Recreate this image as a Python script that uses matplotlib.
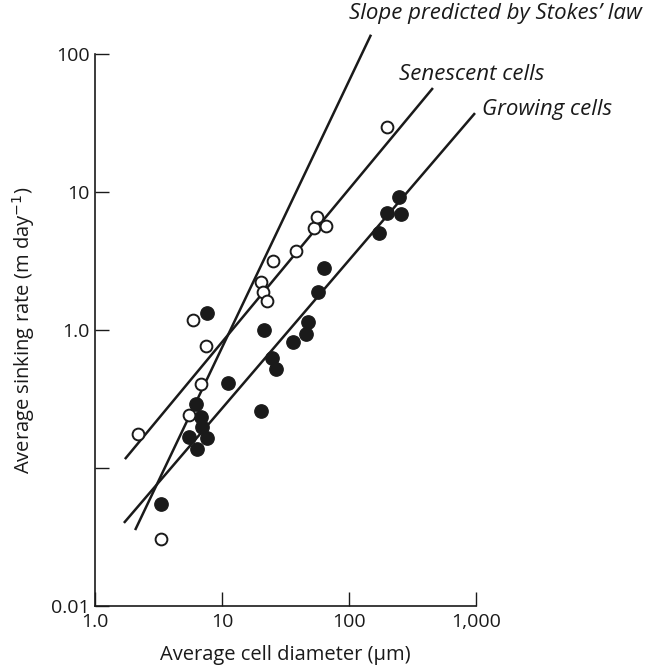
import matplotlib
matplotlib.use("Agg")
import matplotlib.pyplot as plt
import numpy as np

plt.rcParams['font.family'] = ['Open Sans', 'DejaVu Sans']

# Senescent cells (open circles)
sen_d = [2.18, 3.31, 5.91, 7.48, 6.83, 5.50, 20.3, 21.0, 22.6, 25.2, 38.3, 53.0, 56.0, 65.9, 199]
sen_v = [0.176, 0.0306, 1.18, 0.766, 0.406, 0.242, 2.23, 1.88, 1.62, 3.16, 3.73, 5.48, 6.59, 5.67, 29.6]

# Growing cells (filled circles)
grow_d = [3.31, 7.62, 6.24, 6.83, 6.96, 5.50, 7.62, 6.36, 11.1, 21.4, 20.3, 36.3, 24.8, 26.6,
          63.6, 57.0, 47.5, 45.8, 172, 199, 257, 248]
grow_v = [0.0548, 1.33, 0.291, 0.234, 0.198, 0.168, 0.165, 0.137, 0.413, 1.00, 0.259, 0.819, 0.627, 0.521,
          2.81, 1.88, 1.14, 0.935, 5.05, 7.05, 6.93, 9.2]

# Fitted / reference lines (end points)
stokes_x = [2.07, 149]
stokes_y = [0.0355, 138]
sen_line_x = [1.72, 458]
sen_line_y = [0.116, 56.7]
grow_line_x = [1.69, 982]
grow_line_y = [0.040, 37.3]

xticks = [1, 10, 100, 1000]
xticklabels = ['1.0', '10', '100', '1,000']
yticks = [0.01, 0.1, 1, 10, 100]
yticklabels = ['0.01', '', '1.0', '10', '100']

ink = '#1a1a1a'

fig = plt.figure(figsize=(6.5, 6.7), dpi=100)
ax = fig.add_axes([95/650, 1 - 606/670, (476-95)/650, (606-54)/670])
ax.set_xscale('log')
ax.set_yscale('log')
ax.set_xlim(1, 1000)
ax.set_ylim(0.01, 100)

for lx, ly in [(stokes_x, stokes_y), (sen_line_x, sen_line_y), (grow_line_x, grow_line_y)]:
    ax.plot(lx, ly, color=ink, lw=1.8, clip_on=False, zorder=2, solid_capstyle='butt')

ax.scatter(grow_d, grow_v, s=92, facecolor=ink, edgecolor=ink, linewidth=1.0, zorder=3, clip_on=False)
ax.scatter(sen_d, sen_v, s=72, facecolor='white', edgecolor=ink, linewidth=1.4, zorder=4, clip_on=False)

for s in ['top', 'right']:
    ax.spines[s].set_visible(False)
for s in ['left', 'bottom']:
    ax.spines[s].set_linewidth(1.2)
    ax.spines[s].set_color(ink)

ax.set_xticks(xticks)
ax.set_xticklabels(xticklabels)
ax.set_yticks(yticks)
ax.set_yticklabels(yticklabels)
ax.minorticks_off()
ax.tick_params(axis='both', which='major', direction='in', length=10, width=1.0,
               labelsize=14, colors=ink, pad=5)
ax.tick_params(axis='y', pad=4)

ax.set_xlabel('Average cell diameter (\u03bcm)', fontsize=14.5, color=ink, labelpad=10)
ax.set_ylabel('Average sinking rate (m day$^{-1}$)', fontsize=14.5, color=ink, labelpad=10)

fig.text(349/650, 1 - 14/670, 'Slope predicted by Stokes\u2019 law', fontsize=16, style='italic',
         color=ink, va='center', ha='left')
fig.text(399/650, 1 - 74/670, 'Senescent cells', fontsize=16, style='italic',
         color=ink, va='center', ha='left')
fig.text(482/650, 1 - 109/670, 'Growing cells', fontsize=16, style='italic',
         color=ink, va='center', ha='left')

fig.savefig('out.png', dpi=100)
